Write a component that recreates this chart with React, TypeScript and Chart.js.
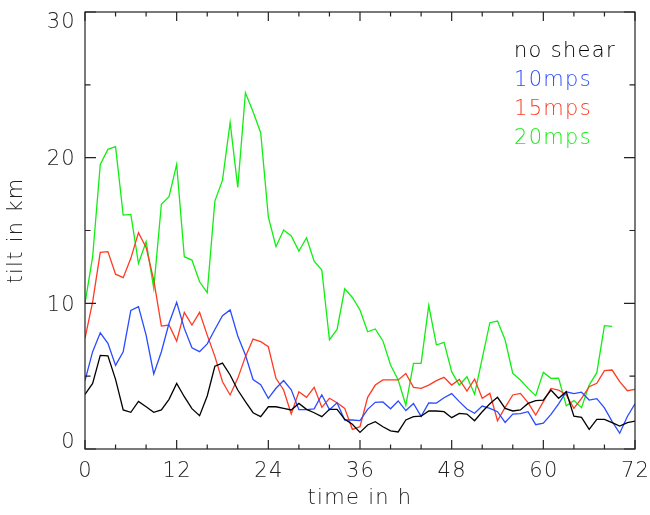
import React, { useEffect, useRef } from "react";
import { Chart, registerables } from "chart.js";

Chart.register(...registerables);

const hours: number[] = Array.from({ length: 73 }, (_, i) => i);

const noShear = [
  3.75, 4.5, 6.43, 6.4, 4.78, 2.68, 2.52, 3.27, 2.9, 2.52, 2.68, 3.41, 4.5,
  3.59, 2.77, 2.29, 3.64, 5.68, 5.9, 5.08, 4.05, 3.25, 2.49, 2.22, 2.9,
  2.9, 2.79, 2.68, 3.13, 2.72, 2.49, 2.22, 2.72, 2.72, 2.04, 1.7, 1.14,
  1.65, 1.88, 1.53, 1.24, 1.17, 1.99, 2.22, 2.25, 2.61, 2.61, 2.56, 2.15,
  2.45, 2.4, 1.94, 2.56, 3.1, 3.55, 2.79, 2.61, 2.68, 3.13, 3.32, 3.36,
  4.05, 3.48, 3.93, 2.26, 2.17, 1.35, 2.04, 2.04, 1.81, 1.58, 1.81, 1.92,
];

const mps10 = [
  4.7, 6.68, 7.98, 7.25, 5.74, 6.68, 9.52, 9.77, 7.82, 5.15, 6.68, 8.63,
  10.07, 8.28, 6.95, 6.68, 7.22, 8.2, 9.15, 9.55, 7.76, 6.45, 4.77, 4.42,
  3.48, 4.17, 4.7, 4.07, 2.7, 2.7, 2.76, 3.72, 2.7, 3.17, 1.99, 1.99, 1.95,
  2.72, 3.2, 3.23, 2.76, 3.3, 2.64, 3.13, 2.24, 3.17, 3.15, 3.52, 3.8,
  3.25, 2.75, 2.45, 2.95, 2.79, 2.56, 1.82, 2.4, 2.43, 2.56, 1.67, 1.78,
  2.38, 3.1, 3.93, 3.8, 3.9, 3.36, 3.46, 2.82, 1.9, 1.08, 2.23, 3.1,
];

const mps15 = [
  7.6, 10.1, 13.5, 13.55, 12.0, 11.76, 13.09, 14.85, 13.84, 11.6, 8.44,
  8.51, 7.41, 9.38, 8.51, 9.38, 7.82, 6.36, 4.62, 3.71, 4.85, 6.34, 7.55,
  7.37, 7.02, 4.85, 4.05, 2.4, 3.93, 3.55, 4.23, 2.86, 3.48, 3.18, 2.79,
  1.35, 1.53, 3.55, 4.39, 4.74, 4.74, 4.74, 5.19, 4.23, 4.16, 4.39, 4.69,
  4.92, 4.39, 4.78, 3.98, 4.8, 3.48, 3.82, 1.94, 2.86, 3.71, 3.82, 3.18,
  2.33, 3.25, 4.16, 4.05, 3.71, 2.79, 3.48, 4.28, 4.51, 5.38, 5.42, 4.62,
  4.0, 4.1,
];

const mps20 = [
  10.0, 13.2, 19.54, 20.57, 20.75, 16.06, 16.1, 12.74, 14.23, 11.03, 16.8,
  17.32, 19.54, 13.2, 12.97, 11.48, 10.73, 17.02, 18.46, 22.42, 17.96,
  24.46, 23.15, 21.71, 15.94, 13.89, 15.03, 14.62, 13.59, 14.5, 12.9,
  12.29, 7.5, 8.21, 11.0, 10.4, 9.54, 8.05, 8.24, 7.42, 5.77, 4.74, 3.0,
  5.88, 5.88, 9.86, 7.14, 7.32, 5.31, 4.39, 4.96, 3.76, 6.22, 8.67, 8.78,
  7.48, 5.19, 4.74, 4.16, 3.66, 5.26, 4.85, 4.87, 2.97, 3.32, 2.84, 4.39,
  5.24, 8.47, 8.42,
];

const seriesLabels = ["no shear", "10mps", "15mps", "20mps"];
const seriesValues = [noShear, mps10, mps15, mps20];
const seriesColors = ["#000000", "#2a4bff", "#ff3a22", "#11ee11"];

const xTitle = "time in h";
const yTitle = "tilt in km";
const xMin = 0, xMax = 72, xMajor = 12, xMinor = 4;
const yMin = 0, yMax = 30, yMajor = 10, yMinor = 5;

const FAMILY = "'DejaVu Sans', sans-serif";
const WEIGHT = "200";
const SIZE = 21;
const LS = "1.3px";
const TEXT = "#222";

const idlPlugin = {
  id: "idlBox",
  beforeUpdate(chart: any) {
    chart.ctx.letterSpacing = LS;
  },
  beforeDraw(chart: any) {
    chart.ctx.letterSpacing = LS;
  },
  afterDatasetsDraw(chart: any) {
    const { ctx, chartArea: a, scales } = chart;
    const xs = scales.x, ys = scales.y;
    ctx.save();
    ctx.strokeStyle = "#222";
    ctx.lineWidth = 1.2;
    ctx.strokeRect(a.left, a.top, a.right - a.left, a.bottom - a.top);
    ctx.beginPath();
    for (let v = xMin; v <= xMax; v += xMinor) {
      const len = v % xMajor === 0 ? 9 : 4.5;
      const px = xs.getPixelForValue(v);
      ctx.moveTo(px, a.bottom);
      ctx.lineTo(px, a.bottom - len);
      ctx.moveTo(px, a.top);
      ctx.lineTo(px, a.top + len);
    }
    for (let v = yMin; v <= yMax; v += yMinor) {
      const len = v % yMajor === 0 ? 11 : 5.5;
      const py = ys.getPixelForValue(v);
      ctx.moveTo(a.left, py);
      ctx.lineTo(a.left + len, py);
      ctx.moveTo(a.right, py);
      ctx.lineTo(a.right - len, py);
    }
    ctx.stroke();

    ctx.font = `${WEIGHT} ${SIZE}px ${FAMILY}`;
    ctx.letterSpacing = LS;
    ctx.fillStyle = TEXT;

    // x tick labels from the scale's ticks
    ctx.textAlign = "center";
    ctx.textBaseline = "alphabetic";
    xs.ticks.forEach((t: any) => {
      const px = xs.getPixelForValue(t.value);
      ctx.fillText(String(t.value), px + 0.6, a.bottom + 28);
    });

    // y tick labels, first and last kept inside the axis span
    ctx.textAlign = "right";
    const yt = ys.ticks;
    yt.forEach((t: any, i: number) => {
      const py = ys.getPixelForValue(t.value);
      let base = py + 7.5;
      if (i === 0) base = py - 1;
      else if (i === yt.length - 1) base = py + 16;
      ctx.fillText(String(t.value), a.left - 9, base);
    });

    ctx.textAlign = "left";
    chart.data.datasets.forEach((ds: any, i: number) => {
      ctx.fillStyle = ds.borderColor;
      ctx.fillText(ds.label, 514, 57 + i * 29);
    });
    ctx.restore();
  },
};

export default function App() {
  const ref = useRef<HTMLCanvasElement | null>(null);
  useEffect(() => {
    if (!ref.current) return;
    document.body.style.margin = "0";
    const font = { family: FAMILY, size: SIZE, weight: WEIGHT };
    const chart = new Chart(ref.current, {
      type: "line",
      data: {
        datasets: seriesValues.map((vals, i) => ({
          label: seriesLabels[i],
          data: vals.map((v, j) => ({ x: hours[j], y: v })),
          borderColor: seriesColors[i],
          backgroundColor: seriesColors[i],
          borderWidth: 1.3,
          pointRadius: 0,
          tension: 0,
          fill: false,
        })),
      },
      options: {
        responsive: false,
        animation: false,
        layout: { padding: { left: 0, right: 15, top: 12, bottom: 0 } },
        plugins: { legend: { display: false }, tooltip: { enabled: false } },
        scales: {
          x: {
            type: "linear",
            min: xMin,
            max: xMax,
            grid: { display: false },
            border: { display: false },
            ticks: { stepSize: xMajor, display: false, autoSkip: false },
            title: {
              display: true,
              text: xTitle,
              color: TEXT,
              padding: { top: 0, bottom: 4 },
              font,
            },
            afterFit: (s: any) => {
              s.height = 66;
            },
          },
          y: {
            min: yMin,
            max: yMax,
            grid: { display: false },
            border: { display: false },
            ticks: { stepSize: yMajor, display: false },
            title: {
              display: true,
              text: yTitle,
              color: TEXT,
              padding: { top: 4, bottom: 0 },
              font,
            },
            afterFit: (s: any) => {
              s.width = 85;
            },
          },
        },
      },
      plugins: [idlPlugin],
    } as any);
    return () => chart.destroy();
  }, []);
  return (
    <div style={{ position: "absolute", left: 0, top: 0, width: 650, height: 515, background: "#fff" }}>
      <canvas ref={ref} width={650} height={515} style={{ display: "block" }} />
    </div>
  );
}
